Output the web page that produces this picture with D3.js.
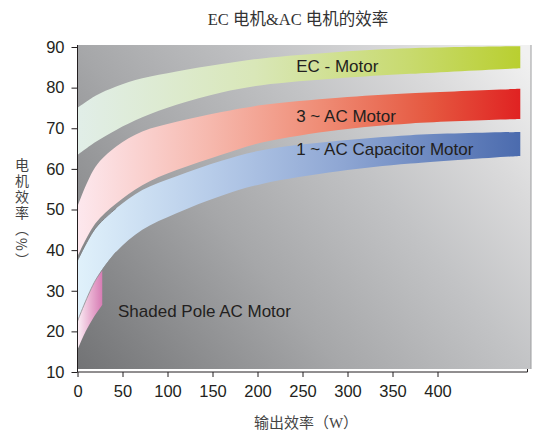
<!DOCTYPE html>
<html>
<head>
<meta charset="utf-8">
<script src="https://cdn.jsdelivr.net/npm/d3@7"></script>
<style>
  body { margin: 0; background: #fff; }
  text { fill: #231f20; }
</style>
</head>
<body>
<svg id="chart" width="538" height="435"></svg>
<script>
// output power (W) sample points along the bands
const watts = [0, 20, 43, 72, 110, 160, 205, 290, 370, 492];

// efficiency bands (%), upper and lower edge
const ecUpper = [75, 78, 80.3, 82.3, 84.0, 85.8, 87.2, 88.8, 89.7, 90.2];
const ecLower = [63.4, 66.6, 69.6, 72.7, 75.8, 78.8, 80.6, 82.3, 83.4, 84.8];
const ac3Upper = [50.7, 60.5, 65.5, 69.2, 71.6, 74.0, 75.7, 77.5, 78.6, 79.7];
const ac3Lower = [38.4, 46.6, 51.5, 56.0, 59.7, 63.5, 66.5, 69.6, 71.2, 72.3];
const ac1Upper = [37.4, 45.4, 50.3, 54.8, 58.2, 62.0, 64.6, 66.9, 68.3, 69.1];
const ac1Lower = [22.5, 32.6, 39.6, 45.0, 49.1, 53.4, 56.3, 59.4, 61.3, 63.2];

// shaded pole motor: only the very low power end
const spWatts = [0, 9, 18, 27.5];
const spUpper = [23.5, 29, 32.5, 35.0];
const spLower = [15.5, 20, 23.5, 26.5];

const seriesNames = ["EC - Motor", "3 ~ AC Motor", "1 ~ AC Capacitor Motor", "Shaded Pole AC Motor"];

const xTicks = [0, 50, 100, 150, 200, 250, 300, 350, 400];
const yTicks = [10, 20, 30, 40, 50, 60, 70, 80, 90];

const title = "EC 电机&AC 电机的效率";
const xTitle = "输出效率（W）";
const yTitle = "电机效率（%）";

const svg = d3.select("#chart");
const x = d3.scaleLinear().domain([0, 500]).range([77.5, 527.5]);
const y = d3.scaleLinear().domain([10, 90]).range([372, 47]);

const defs = svg.append("defs");

function hGrad(id, stops) {
  const g = defs.append("linearGradient").attr("id", id)
    .attr("gradientUnits", "userSpaceOnUse")
    .attr("x1", x(0)).attr("x2", x(492)).attr("y1", 0).attr("y2", 0);
  stops.forEach(s => g.append("stop").attr("offset", s[0]).attr("stop-color", s[1]));
}

// background
const bg = defs.append("linearGradient").attr("id", "bg")
  .attr("gradientUnits", "userSpaceOnUse")
  .attr("x1", 90).attr("y1", 420).attr("x2", 530).attr("y2", 60);
[[0, "#6c6d6f"], [0.4, "#a6a7a9"], [0.65, "#c2c3c5"], [0.84, "#dadadb"], [1, "#f1f1f1"]]
  .forEach(s => bg.append("stop").attr("offset", s[0]).attr("stop-color", s[1]));

hGrad("gEC", [[0, "#e1eee8"], [0.4, "#d9e7b8"], [0.75, "#c8da6e"], [1, "#b9cf30"]]);
hGrad("gAC3", [[0, "#fde8ee"], [0.3, "#f6b8ad"], [0.55, "#ef8c75"], [0.8, "#e5573f"], [1, "#e02222"]]);
hGrad("gAC1", [[0, "#e0f1fb"], [0.3, "#b7cce9"], [0.6, "#8ea6d3"], [1, "#4b6bae"]]);

const sp = defs.append("linearGradient").attr("id", "gSP")
  .attr("gradientUnits", "userSpaceOnUse")
  .attr("x1", x(0)).attr("x2", x(27.5)).attr("y1", 0).attr("y2", 0);
[[0, "#fbf0f6"], [0.5, "#eab3d3"], [1, "#d77cb4"]]
  .forEach(s => sp.append("stop").attr("offset", s[0]).attr("stop-color", s[1]));

svg.append("rect")
  .attr("x", 78).attr("y", 45).attr("width", 453).attr("height", 324)
  .attr("fill", "url(#bg)");
svg.append("line")
  .attr("x1", 531).attr("x2", 531).attr("y1", 45).attr("y2", 369)
  .attr("stroke", "#9c9d9f").attr("stroke-width", 1);

function band(ws, lo, hi) {
  return ws.map((w, i) => ({ w: w, lo: lo[i], hi: hi[i] }));
}

const curve = d3.curveCatmullRom.alpha(0.5);

const area = d3.area()
  .x(d => x(d.w))
  .y0(d => y(d.lo))
  .y1(d => y(d.hi))
  .curve(curve);

const edge = d3.line()
  .x(d => x(d.w))
  .y(d => y(d.hi))
  .curve(curve);

const spBand = band(spWatts, spLower, spUpper);
const ac1Band = band(watts, ac1Lower, ac1Upper);
const ac3Band = band(watts, ac3Lower, ac3Upper);
const ecBand = band(watts, ecLower, ecUpper);

svg.append("path").attr("d", area(spBand)).attr("fill", "url(#gSP)");
svg.append("path").attr("d", area(ac1Band)).attr("fill", "url(#gAC1)");
svg.append("path").attr("d", area(ac3Band)).attr("fill", "url(#gAC3)");
svg.append("path").attr("d", area(ecBand)).attr("fill", "url(#gEC)");

// thin shadow lines on the edges where bands touch
svg.append("path").attr("d", edge(ac1Band.slice(0, 3)))
  .attr("fill", "none").attr("stroke", "#7a7b7d").attr("stroke-width", 0.9);
svg.append("path").attr("d", edge(ac1Band.slice(0, 3).map(d => ({ w: d.w, hi: d.lo }))))
  .attr("fill", "none").attr("stroke", "#8a8b8d").attr("stroke-width", 0.8);

// series labels
const labelPos = [[243, 83.8], [243, 71.6], [243, 63.4], [45, 23.5]];
svg.selectAll("text.series")
  .data(seriesNames)
  .join("text")
  .attr("class", "series")
  .attr("x", (d, i) => x(labelPos[i][0]))
  .attr("y", (d, i) => y(labelPos[i][1]))
  .attr("font-family", "Liberation Sans, Arial, sans-serif")
  .attr("font-size", 17)
  .text(d => d);

// axes
const axisColor = "#231f20";
const gx = svg.append("g").attr("transform", `translate(0,${y(10)})`)
  .call(d3.axisBottom(x).tickValues(xTicks).tickSize(5).tickPadding(8).tickSizeOuter(0));
gx.select(".domain").attr("d", `M${x(0)},0H${x(500)}V-3`).attr("stroke", axisColor);

const gy = svg.append("g").attr("transform", `translate(${x(0)},0)`)
  .call(d3.axisLeft(y).tickValues(yTicks).tickSize(6).tickPadding(7).tickSizeOuter(0));
gy.select(".domain").attr("d", `M0,${y(10)}V45`).attr("stroke", axisColor);

[gx, gy].forEach(g => {
  g.selectAll(".tick line").attr("stroke", axisColor);
  g.selectAll(".tick text")
    .attr("font-family", "Liberation Sans, Arial, sans-serif")
    .attr("font-size", 16.5)
    .attr("fill", axisColor);
});

// titles
svg.append("text")
  .attr("x", 298).attr("y", 25)
  .attr("text-anchor", "middle")
  .attr("font-family", "Liberation Serif, Noto Sans CJK SC, serif")
  .attr("font-size", 16.5)
  .style("fill", "#333")
  .text(title);

svg.append("text")
  .attr("x", 306).attr("y", 428)
  .attr("text-anchor", "middle")
  .attr("font-family", "Liberation Serif, Noto Sans CJK SC, serif")
  .attr("font-size", 15)
  .style("fill", "#444")
  .text(xTitle);

svg.append("text")
  .attr("x", 22).attr("y", 158)
  .style("writing-mode", "vertical-rl")
  .attr("font-family", "Noto Sans CJK SC, sans-serif")
  .attr("font-size", 14)
  .attr("letter-spacing", 2)
  .style("fill", "#444")
  .text(yTitle);
</script>
</body>
</html>
